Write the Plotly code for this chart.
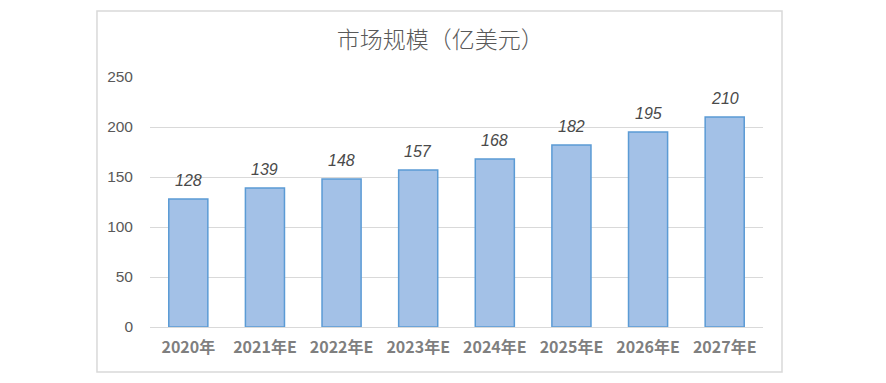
import plotly.graph_objects as go

categories = ["2020年", "2021年E", "2022年E", "2023年E", "2024年E", "2025年E", "2026年E", "2027年E"]
values = [128, 139, 148, 157, 168, 182, 195, 210]
y_ticks = [0, 50, 100, 150, 200, 250]
title_text = "市场规模（亿美元）"

font_cjk = "Noto Sans CJK SC, Noto Sans, sans-serif"

fig = go.Figure()
fig.add_trace(go.Bar(
    x=categories,
    y=values,
    width=0.51,
    marker=dict(color="#a3c1e7", line=dict(color="#5b9bd5", width=1.5)),
    hoverinfo="x+y",
))

for c, v in zip(categories, values):
    fig.add_annotation(
        x=c, y=v, text=str(v), showarrow=False, xanchor="center", yanchor="bottom",
        yshift=8,
        font=dict(family="Liberation Sans, Arial, sans-serif", size=16, color="#4a4a4a", style="italic"),
    )

fig.update_layout(
    width=886, height=383,
    margin=dict(l=150, r=123, t=77, b=56),
    paper_bgcolor="white", plot_bgcolor="white",
    showlegend=False,
    title=dict(text=title_text, x=0.497, xanchor="center", y=0.895, yanchor="middle",
               font=dict(family=font_cjk, size=23, color="#595959", weight=300)),
    bargap=0.49,
    xaxis=dict(
        showgrid=False, showline=True, linecolor="#d9d9d9", linewidth=1,
        tickfont=dict(family=font_cjk, size=16, color="#7f7f7f", weight="bold"),
        ticks="", ticklabelstandoff=6,
    ),
    yaxis=dict(
        range=[0, 250], tickvals=y_ticks, showgrid=True, gridcolor="#d9d9d9", gridwidth=1,
        zeroline=False, showline=False,
        tickfont=dict(family="Liberation Sans, Arial, sans-serif", size=15.5, color="#595959"),
        ticks="", ticklabelstandoff=16,
    ),
    shapes=[dict(type="rect", xref="paper", yref="paper",
                 x0=-0.0865, x1=1.031, y0=-0.18, y1=1.264,
                 line=dict(color="#d9d9d9", width=1.5), fillcolor="rgba(0,0,0,0)", layer="below")],
)

fig.write_html("out.html")
